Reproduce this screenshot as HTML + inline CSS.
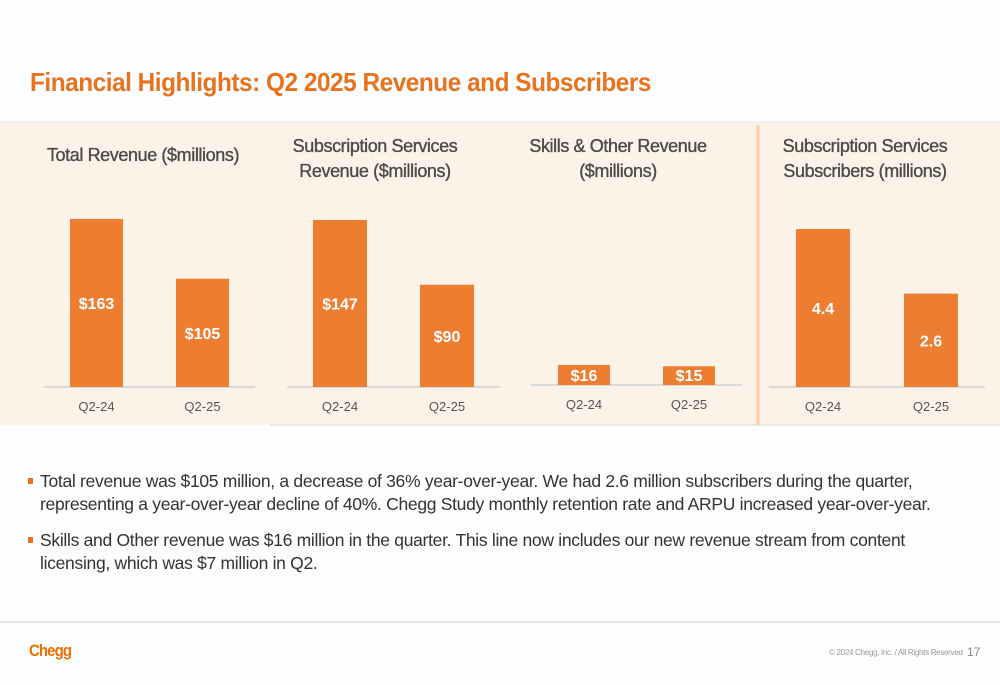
<!DOCTYPE html>
<html><head><meta charset="utf-8"><style>
body{margin:0;width:1000px;height:685px;background:#fbfdfe;font-family:"Liberation Sans",sans-serif;overflow:hidden;position:relative}
h1{position:absolute;left:30px;top:67px;margin:0;font-size:26px;font-weight:bold;color:#e8731e;letter-spacing:-0.5px;transform:scaleX(0.937);transform-origin:0 0;white-space:nowrap}
.b{position:absolute;left:40px;width:920px;font-size:17.5px;color:#333;line-height:23px;letter-spacing:-0.3px}
.b span.sq{position:absolute;left:-12px;top:8px;width:5px;height:6px;background:#e8731e}
</style></head><body>
<h1>Financial Highlights: Q2 2025 Revenue and Subscribers</h1>
<svg id="c" width="1000" height="440" style="position:absolute;left:0;top:0">
<rect x="0" y="122" width="1000" height="303" fill="#fdf2e8"/>
<line x1="0" y1="122" x2="1000" y2="122" stroke="#e4e4e4" stroke-width="1"/>
<line x1="270" y1="425" x2="1000" y2="425" stroke="#e4e4e4" stroke-width="1.5"/>
<line x1="758" y1="125" x2="758" y2="425" stroke="#f9cfa8" stroke-width="3"/>
</svg>
<div class="b" style="top:470px"><span class="sq"></span>Total revenue was $105 million, a decrease of 36% year-over-year. We had 2.6 million subscribers during the quarter, representing a year-over-year decline of 40%. Chegg Study monthly retention rate and ARPU increased year-over-year.</div>
<div class="b" style="top:529px"><span class="sq"></span>Skills and Other revenue was $16 million in the quarter. This line now includes our new revenue stream from content licensing, which was $7 million in Q2.</div>
<div style="position:absolute;left:0;top:621px;width:1000px;height:2px;background:#e2e4e6"></div>
<div style="position:absolute;left:29px;top:641px;font-size:17px;font-weight:bold;color:#eb7100;letter-spacing:-1px;transform:scaleX(0.88);transform-origin:0 0">Chegg</div>
<div style="position:absolute;left:829px;top:648px;font-size:8px;color:#999;letter-spacing:-0.3px">© 2024 Chegg, Inc. / All Rights Reserved</div>
<div style="position:absolute;left:967px;top:645px;font-size:12px;color:#888">17</div>
<script>
const categories=["Q2-24","Q2-25"];
const totalRevenue=[163,105];
const subRevenue=[147,90];
const skillsRevenue=[16,15];
const subscribers=[4.4,2.6];
const totalLabels=["$163","$105"];
const subRevLabels=["$147","$90"];
const skillsLabels=["$16","$15"];
const subscriberLabels=["4.4","2.6"];
const titles=[["Total Revenue ($millions)"],["Subscription Services","Revenue ($millions)"],["Skills & Other Revenue","($millions)"],["Subscription Services","Subscribers (millions)"]];
const ns="http://www.w3.org/2000/svg",svg=document.getElementById("c");
function mk(t,a,p){const e=document.createElementNS(ns,t);for(const k in a)e.setAttribute(k,a[k]);(p||svg).appendChild(e);return e;}
const charts=[
 {vals:totalRevenue,labs:totalLabels,x0:44,x1:255,base:387,yMax:194,titleY:[161],cx:143,bars:[70,176],bw:53,inside:false,name:"total-revenue"},
 {vals:subRevenue,labs:subRevLabels,x0:287,x1:500,base:387,yMax:176,titleY:[152,177],cx:375,bars:[313,420],bw:54,inside:false,name:"subscription-revenue"},
 {vals:skillsRevenue,labs:skillsLabels,x0:531,x1:742,base:385,yMax:160,titleY:[152,177],cx:618,bars:[558,663],bw:52,inside:true,name:"skills-revenue"},
 {vals:subscribers,labs:subscriberLabels,x0:769,x1:985,base:387,yMax:5.57,titleY:[152,177],cx:865,bars:[796,904],bw:54,inside:false,name:"subscribers"}];
charts.forEach((c,i)=>{
 const g=mk("g",{});
 
 
 const y=v=>c.base-v/c.yMax*200;
 titles[i].forEach((t,j)=>{const tx=mk("text",{x:c.cx,y:c.titleY[j],"text-anchor":"middle","font-size":"18","fill":"#4a4a4a","letter-spacing":"-0.4","stroke":"#4a4a4a","stroke-width":"0.35"},g);tx.textContent=t;
  
  });
 const ax=mk("line",{x1:c.x0,x2:c.x1,y1:c.base,y2:c.base,stroke:"#d9d9d9","stroke-width":"2"},g);
 
 
 c.vals.forEach((v,k)=>{
  const top=y(v);
  const r=mk("rect",{x:c.bars[k],y:top,width:c.bw,height:c.base-top,fill:"#ed7d31"},g);
  
  
  const ly=c.inside?c.base-4:(top+c.base)/2+6;
  const t=mk("text",{x:c.bars[k]+c.bw/2,y:ly,"text-anchor":"middle","font-size":"16","font-weight":"bold",fill:"#fff"},g);t.textContent=c.labs[k];
  
  
  const xl=mk("text",{x:c.bars[k]+c.bw/2,y:c.base+24,"text-anchor":"middle","font-size":"13","fill":"#555"},g);xl.textContent=categories[k];
  
  
 });
});
</script>
</body></html>
